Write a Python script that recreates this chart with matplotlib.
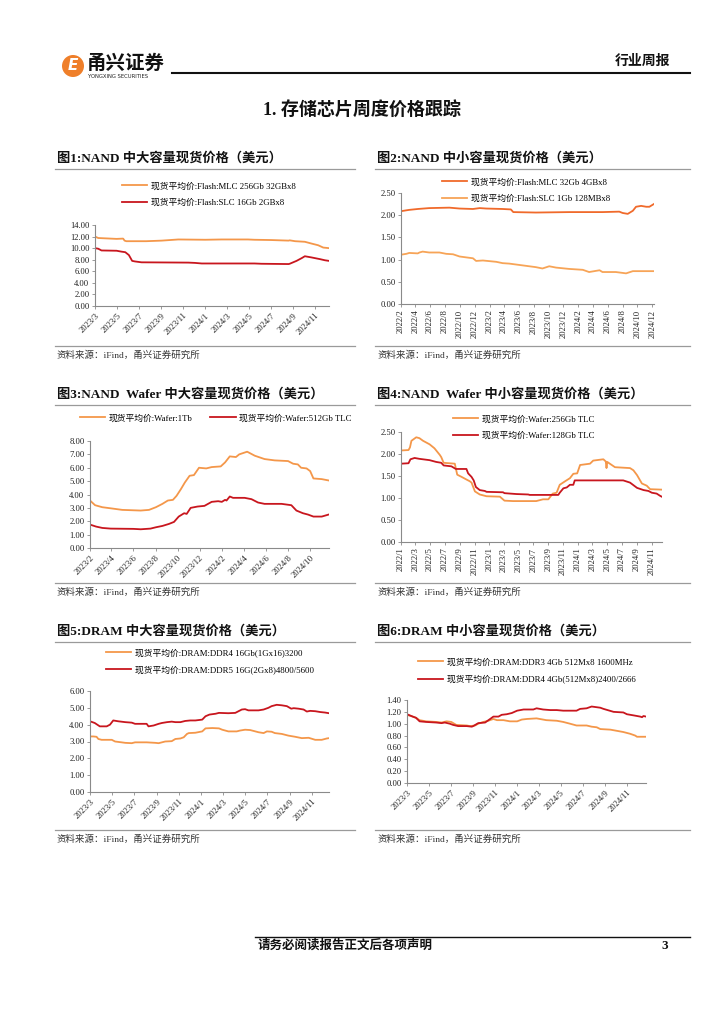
import matplotlib
matplotlib.use("Agg")
import matplotlib.pyplot as plt
import matplotlib.dates as mdates
from matplotlib.lines import Line2D
from matplotlib.patches import Ellipse
from matplotlib.ticker import FuncFormatter, MultipleLocator
import pandas as pd

plt.rcParams["font.family"] = ["Liberation Serif", "Noto Sans CJK SC"]

W, H = 724, 1024

ORANGE = "#F4974A"
RED = "#C8161E"
ORANGE_RED = "#F06A2B"
LIGHT_ORANGE = "#F7A457"

# ---- chart 1: NAND 中大容量 ----
mlc256_dates = ["2023-03-01", "2023-03-10", "2023-04-30", "2023-05-18", "2023-05-22", "2023-05-27",
                "2023-07-21", "2023-09-02", "2023-10-18", "2024-01-01", "2024-02-15", "2024-04-28",
                "2024-05-16", "2024-07-02", "2024-08-19", "2024-08-22", "2024-09-06", "2024-10-03",
                "2024-10-21", "2024-11-09", "2024-11-23", "2024-12-09"]
mlc256 = [12.0, 11.75, 11.6, 11.65, 11.3, 11.2, 11.2, 11.3, 11.5, 11.45, 11.5, 11.5,
          11.45, 11.4, 11.3, 11.35, 11.2, 11.1, 10.8, 10.5, 10.1, 10.0]
slc16_dates = ["2023-03-01", "2023-03-10", "2023-03-19", "2023-04-30", "2023-05-13", "2023-05-24",
               "2023-06-03", "2023-06-12", "2023-06-20", "2023-07-08", "2023-11-15", "2023-12-03",
               "2023-12-22", "2024-05-16", "2024-06-05", "2024-08-19", "2024-08-22", "2024-09-10",
               "2024-09-25", "2024-10-03", "2024-10-21", "2024-11-14", "2024-11-28", "2024-12-09"]
slc16 = [10.0, 9.9, 9.6, 9.55, 9.4, 9.3, 8.8, 7.8, 7.7, 7.55, 7.5, 7.45,
         7.35, 7.35, 7.3, 7.25, 7.3, 7.8, 8.3, 8.6, 8.4, 8.1, 7.9, 7.8]

# ---- chart 2: NAND 中小容量 ----
mlc32_dates = ["2022-02-01", "2022-02-23", "2022-03-07", "2022-04-11", "2022-05-28", "2022-08-19",
               "2022-09-30", "2022-11-24", "2022-12-22", "2023-01-18", "2023-03-26", "2023-04-29",
               "2023-05-09", "2023-08-10", "2023-12-25", "2024-05-10", "2024-07-18", "2024-08-01",
               "2024-08-22", "2024-09-12", "2024-09-25", "2024-10-16", "2024-11-06", "2024-11-19",
               "2024-12-07"]
mlc32 = [2.09, 2.11, 2.12, 2.14, 2.16, 2.17, 2.15, 2.14, 2.16, 2.15, 2.14, 2.13,
         2.07, 2.06, 2.07, 2.07, 2.08, 2.05, 2.03, 2.10, 2.19, 2.21, 2.19, 2.19, 2.25]
slc1_dates = ["2022-02-01", "2022-02-23", "2022-03-07", "2022-04-11", "2022-04-18", "2022-05-01",
              "2022-05-28", "2022-07-09", "2022-08-06", "2022-09-03", "2022-09-30", "2022-11-10",
              "2022-11-24", "2022-12-07", "2023-01-04", "2023-02-28", "2023-03-26", "2023-04-22",
              "2023-06-16", "2023-08-10", "2023-09-06", "2023-10-04", "2023-11-01", "2023-12-25",
              "2024-02-19", "2024-03-16", "2024-04-28", "2024-05-10", "2024-07-04", "2024-08-15",
              "2024-09-12", "2024-12-07"]
slc1 = [1.11, 1.13, 1.15, 1.14, 1.16, 1.18, 1.16, 1.16, 1.13, 1.12, 1.07, 1.04,
        1.03, 0.97, 0.98, 0.95, 0.92, 0.91, 0.87, 0.83, 0.80, 0.85, 0.82, 0.79,
        0.77, 0.72, 0.76, 0.72, 0.72, 0.69, 0.74, 0.74]

# ---- chart 3: NAND Wafer 中大容量 ----
tb1_dates = ["2023-02-01", "2023-02-15", "2023-03-07", "2023-04-04", "2023-05-01", "2023-06-21",
             "2023-07-14", "2023-08-02", "2023-08-20", "2023-09-04", "2023-09-18", "2023-09-28",
             "2023-10-10", "2023-10-21", "2023-11-03", "2023-11-15", "2023-11-29", "2023-12-19",
             "2024-01-03", "2024-01-28", "2024-02-09", "2024-02-22", "2024-03-10", "2024-03-19",
             "2024-04-10", "2024-05-01", "2024-05-28", "2024-06-25", "2024-08-01", "2024-08-15",
             "2024-08-28", "2024-09-06", "2024-09-21", "2024-10-01", "2024-10-10", "2024-11-02",
             "2024-11-21"]
tb1 = [3.55, 3.20, 3.05, 2.95, 2.85, 2.80, 2.85, 3.05, 3.30, 3.55, 3.60, 3.90,
       4.40, 4.90, 5.40, 5.45, 6.00, 5.95, 6.05, 6.10, 6.40, 6.85, 6.80, 7.00,
       7.20, 6.90, 6.65, 6.55, 6.50, 6.30, 6.25, 6.00, 5.95, 5.75, 5.20, 5.15, 5.05]
tlc512_dates = ["2023-02-01", "2023-02-18", "2023-03-07", "2023-03-30", "2023-06-01", "2023-06-21",
                "2023-07-18", "2023-08-02", "2023-08-20", "2023-09-07", "2023-09-21", "2023-10-04",
                "2023-10-19", "2023-10-26", "2023-11-06", "2023-11-25", "2023-12-14", "2024-01-03",
                "2024-01-21", "2024-01-31", "2024-02-09", "2024-02-13", "2024-02-22", "2024-03-02",
                "2024-04-03", "2024-04-22", "2024-05-10", "2024-05-28", "2024-07-14", "2024-08-10",
                "2024-08-24", "2024-09-11", "2024-09-25", "2024-10-10", "2024-11-02", "2024-11-21"]
tlc512 = [1.75, 1.60, 1.50, 1.45, 1.43, 1.40, 1.45, 1.55, 1.65, 1.80, 1.95, 2.35,
          2.60, 2.55, 3.00, 3.10, 3.15, 3.45, 3.50, 3.45, 3.60, 3.55, 3.85, 3.75,
          3.75, 3.65, 3.40, 3.30, 3.30, 3.20, 2.80, 2.60, 2.50, 2.35, 2.35, 2.50]

# ---- chart 4: NAND Wafer 中小容量 ----
tlc256_dates = ["2022-01-01", "2022-02-01", "2022-02-07", "2022-02-13", "2022-03-05", "2022-03-18",
                "2022-04-02", "2022-04-29", "2022-05-19", "2022-06-10", "2022-06-16", "2022-06-26",
                "2022-08-11", "2022-08-21", "2022-09-08", "2022-09-28", "2022-10-12", "2022-10-19",
                "2022-11-02", "2022-11-22", "2022-12-20", "2023-02-13", "2023-03-04", "2023-04-08",
                "2023-07-13", "2023-08-10", "2023-09-01", "2023-09-19", "2023-10-05", "2023-10-18",
                "2023-11-09", "2023-11-29", "2023-12-13", "2023-12-29", "2024-01-10", "2024-02-20",
                "2024-03-04", "2024-04-15", "2024-04-25", "2024-04-28", "2024-05-01", "2024-06-02",
                "2024-08-03", "2024-08-17", "2024-09-01", "2024-09-21", "2024-10-11", "2024-10-25",
                "2024-12-12"]
tlc256 = [2.08, 2.09, 2.15, 2.30, 2.38, 2.36, 2.30, 2.22, 2.13, 1.98, 1.93, 1.80,
          1.78, 1.53, 1.48, 1.42, 1.38, 1.35, 1.15, 1.08, 1.04, 1.03, 0.94, 0.93,
          0.93, 0.97, 0.97, 1.10, 1.12, 1.30, 1.38, 1.45, 1.55, 1.56, 1.75, 1.78,
          1.85, 1.88, 1.83, 1.68, 1.82, 1.70, 1.68, 1.63, 1.52, 1.33, 1.28, 1.20,
          1.19]
tlc128_dates = ["2022-01-01", "2022-02-01", "2022-02-09", "2022-02-26", "2022-03-18", "2022-04-29",
                "2022-05-26", "2022-06-16", "2022-06-26", "2022-07-28", "2022-08-15", "2022-09-28",
                "2022-10-05", "2022-10-19", "2022-10-28", "2022-11-06", "2022-11-22", "2022-12-13",
                "2022-12-20", "2023-02-26", "2023-03-04", "2023-04-22", "2023-06-10", "2023-06-16",
                "2023-10-12", "2023-10-18", "2023-11-02", "2023-11-16", "2023-11-29", "2023-12-13",
                "2023-12-19", "2024-07-06", "2024-08-03", "2024-09-01", "2024-09-28", "2024-10-18",
                "2024-11-01", "2024-11-21", "2024-12-05", "2024-12-12"]
tlc128 = [1.78, 1.79, 1.88, 1.91, 1.89, 1.86, 1.82, 1.80, 1.74, 1.72, 1.66, 1.66,
          1.56, 1.48, 1.40, 1.25, 1.18, 1.16, 1.14, 1.13, 1.11, 1.09, 1.08, 1.07,
          1.07, 1.12, 1.22, 1.24, 1.30, 1.30, 1.40, 1.40, 1.35, 1.23, 1.18, 1.16,
          1.12, 1.10, 1.05, 1.03]

# ---- chart 5: DRAM 中大容量 ----
ddr4_16_dates = ["2023-03-01", "2023-03-10", "2023-03-19", "2023-03-24", "2023-04-02", "2023-04-30",
                 "2023-05-09", "2023-05-27", "2023-06-06", "2023-06-24", "2023-07-03", "2023-08-04",
                 "2023-08-28", "2023-09-06", "2023-09-15", "2023-09-24", "2023-10-12", "2023-10-22",
                 "2023-11-05", "2023-11-14", "2023-11-23", "2023-11-28", "2023-12-16", "2024-01-04",
                 "2024-01-13", "2024-02-01", "2024-02-19", "2024-02-28", "2024-03-16", "2024-04-08",
                 "2024-04-17", "2024-05-01", "2024-05-15", "2024-06-07", "2024-06-21", "2024-06-30",
                 "2024-07-13", "2024-07-22", "2024-08-10", "2024-08-28", "2024-09-16", "2024-10-04",
                 "2024-10-23", "2024-11-10", "2024-11-28", "2024-12-12", "2024-12-18"]
ddr4_16 = [3.30, 3.30, 3.28, 3.15, 3.10, 3.10, 3.00, 2.95, 2.92, 2.90, 2.95, 2.95,
           2.92, 2.90, 2.95, 3.00, 3.02, 3.15, 3.18, 3.25, 3.45, 3.50, 3.52, 3.60,
           3.78, 3.80, 3.78, 3.70, 3.60, 3.60, 3.65, 3.70, 3.68, 3.55, 3.50, 3.60,
           3.58, 3.50, 3.45, 3.35, 3.28, 3.20, 3.22, 3.10, 3.10, 3.18, 3.20]
ddr5_16_dates = ["2023-03-01", "2023-03-14", "2023-03-28", "2023-04-16", "2023-04-25", "2023-05-04",
                 "2023-05-18", "2023-06-06", "2023-06-24", "2023-07-03", "2023-08-04", "2023-08-09",
                 "2023-08-23", "2023-09-06", "2023-09-15", "2023-09-29", "2023-10-12", "2023-10-22",
                 "2023-11-05", "2023-11-18", "2023-12-02", "2023-12-16", "2024-01-04", "2024-01-13",
                 "2024-01-24", "2024-02-10", "2024-02-19", "2024-03-16", "2024-04-04", "2024-04-13",
                 "2024-04-22", "2024-05-01", "2024-05-10", "2024-06-07", "2024-06-21", "2024-07-04",
                 "2024-07-13", "2024-07-27", "2024-08-10", "2024-08-24", "2024-08-28", "2024-09-05",
                 "2024-09-12", "2024-09-25", "2024-10-09", "2024-10-18", "2024-10-27", "2024-11-10",
                 "2024-11-24", "2024-12-07", "2024-12-18"]
ddr5_16 = [4.20, 4.10, 3.90, 3.90, 4.00, 4.25, 4.20, 4.15, 4.12, 4.05, 4.05, 3.90,
           3.95, 4.05, 4.10, 4.15, 4.18, 4.15, 4.15, 4.22, 4.25, 4.25, 4.30, 4.50,
           4.60, 4.65, 4.70, 4.68, 4.70, 4.80, 4.90, 4.92, 4.85, 4.85, 4.90, 5.00,
           5.10, 5.18, 5.15, 5.10, 5.05, 4.95, 4.98, 4.95, 4.90, 4.78, 4.82, 4.80,
           4.75, 4.72, 4.68]

# ---- chart 6: DRAM 中小容量 ----
ddr3_4_dates = ["2023-03-01", "2023-03-17", "2023-03-26", "2023-04-05", "2023-04-23", "2023-05-21",
                "2023-06-05", "2023-06-19", "2023-07-02", "2023-07-16", "2023-08-14", "2023-08-23",
                "2023-09-06", "2023-09-15", "2023-09-29", "2023-10-13", "2023-10-27", "2023-11-06",
                "2023-11-24", "2023-12-12", "2024-01-01", "2024-01-14", "2024-01-28", "2024-02-24",
                "2024-03-04", "2024-03-22", "2024-04-20", "2024-05-08", "2024-05-27", "2024-06-14",
                "2024-07-12", "2024-07-26", "2024-08-09", "2024-08-19", "2024-09-16", "2024-10-04",
                "2024-10-22", "2024-11-10", "2024-11-24", "2024-11-29", "2024-12-24"]
ddr3_4 = [1.15, 1.12, 1.10, 1.06, 1.04, 1.03, 1.02, 1.04, 1.03, 0.98, 0.97, 0.96,
          0.97, 1.00, 1.03, 1.05, 1.08, 1.06, 1.06, 1.04, 1.04, 1.07, 1.08, 1.09,
          1.08, 1.06, 1.05, 1.03, 1.00, 0.97, 0.97, 0.95, 0.94, 0.91, 0.90, 0.88,
          0.86, 0.83, 0.80, 0.78, 0.78]
ddr4_4_dates = ["2023-03-01", "2023-03-17", "2023-03-26", "2023-04-05", "2023-04-23", "2023-05-21",
                "2023-06-05", "2023-06-14", "2023-06-28", "2023-07-07", "2023-07-21", "2023-08-14",
                "2023-08-28", "2023-09-01", "2023-09-15", "2023-10-04", "2023-10-18", "2023-10-27",
                "2023-11-10", "2023-11-19", "2023-12-03", "2023-12-17", "2024-01-01", "2024-01-19",
                "2024-02-15", "2024-02-24", "2024-03-13", "2024-04-02", "2024-04-20", "2024-05-08",
                "2024-06-14", "2024-06-24", "2024-07-12", "2024-07-26", "2024-08-19", "2024-08-28",
                "2024-09-25", "2024-10-22", "2024-11-01", "2024-11-20", "2024-12-08", "2024-12-13",
                "2024-12-17", "2024-12-24"]
ddr4_4 = [1.16, 1.12, 1.10, 1.04, 1.03, 1.02, 1.01, 1.02, 1.00, 0.98, 0.96, 0.96,
          0.95, 0.96, 1.01, 1.02, 1.08, 1.12, 1.12, 1.15, 1.16, 1.18, 1.22, 1.24,
          1.24, 1.26, 1.24, 1.23, 1.23, 1.22, 1.22, 1.25, 1.26, 1.29, 1.27, 1.25,
          1.20, 1.19, 1.16, 1.14, 1.12, 1.11, 1.13, 1.12]


def fx(x):
    return x / W


def fy(y):
    return 1 - y / H


def date_fmt(v, pos):
    d = mdates.num2date(v)
    return f"{d.year}/{d.month}"


def panel(fig, box, series, ylim, ystep, xlim, months, rot, leg_xy, leg_ncol=1):
    x0, y0, x1, y1 = box
    ax = fig.add_axes([fx(x0), fy(y1), (x1 - x0) / W, (y1 - y0) / H])
    for dates, vals, label, color in series:
        ax.plot(pd.to_datetime(dates), vals, color=color, lw=1.3, label=label)
    ax.set_ylim(*ylim)
    ax.yaxis.set_major_locator(MultipleLocator(ystep))
    ax.yaxis.set_major_formatter(FuncFormatter(lambda v, p: f"{v:.2f}"))
    ax.set_xlim(pd.Timestamp(xlim[0]), pd.Timestamp(xlim[1]))
    ax.xaxis.set_major_locator(mdates.MonthLocator(bymonth=months))
    ax.xaxis.set_major_formatter(FuncFormatter(date_fmt))
    for s in ("top", "right"):
        ax.spines[s].set_visible(False)
    for s in ("left", "bottom"):
        ax.spines[s].set_color("#8a8a8a")
        ax.spines[s].set_linewidth(0.8)
    ax.tick_params(axis="both", length=2.5, width=0.6, color="#8a8a8a",
                   labelsize=6.2, labelcolor="#222222", pad=1.5)
    if rot == 90:
        for t in ax.get_xticklabels():
            t.set_rotation(90)
            t.set_ha("center")
    else:
        for t in ax.get_xticklabels():
            t.set_rotation(45)
            t.set_ha("right")
            t.set_rotation_mode("anchor")
    ax.legend(loc="upper left", bbox_to_anchor=(fx(leg_xy[0]), fy(leg_xy[1])),
              bbox_transform=fig.transFigure, frameon=False, fontsize=6.3,
              ncol=leg_ncol, handlelength=2.9, handletextpad=0.4,
              labelspacing=0.95, borderpad=0, borderaxespad=0, columnspacing=2.0)
    return ax


fig = plt.figure(figsize=(W / 100, H / 100), dpi=100)

# header
fig.add_artist(Ellipse((fx(73), fy(66)), 22 / W, 22 / H, transform=fig.transFigure,
                       facecolor="#EF7F2A", edgecolor="none"))
fig.text(fx(73), fy(66), "E", color="white", fontsize=11, fontweight="bold",
         fontstyle="italic", ha="center", va="center", family="DejaVu Sans")
fig.text(fx(87), fy(63), "甬兴证券", fontsize=14, fontweight="bold", ha="left",
         va="center", family="Noto Sans CJK SC", color="#111111")
fig.text(fx(88), fy(77), "YONGXING SECURITIES", fontsize=3.8, ha="left",
         va="center", family="DejaVu Sans", color="#222222")
fig.add_artist(Line2D([fx(172), fx(690)], [fy(73), fy(73)], color="#111111", lw=1.5))
fig.text(fx(670), fy(61), "行业周报", fontsize=10, fontweight="bold", ha="right",
         va="center", color="#111111")
fig.text(fx(362), fy(110), "1. 存储芯片周度价格跟踪", fontsize=13, fontweight="bold",
         ha="center", va="center", color="#111111")

# panel frames: titles, rules and sources
titles = [("图1:NAND 中大容量现货价格（美元）", "图2:NAND 中小容量现货价格（美元）", 158, 355),
          ("图3:NAND  Wafer 中大容量现货价格（美元）", "图4:NAND  Wafer 中小容量现货价格（美元）", 394, 592),
          ("图5:DRAM 中大容量现货价格（美元）", "图6:DRAM 中小容量现货价格（美元）", 631, 839)]
for left_t, right_t, ty, sy in titles:
    for t, xa, xb in ((left_t, 55, 355), (right_t, 375, 690)):
        fig.text(fx(xa + 2), fy(ty), t, fontsize=9.5, fontweight="bold", ha="left",
                 va="center", color="#111111")
        fig.add_artist(Line2D([fx(xa), fx(xb)], [fy(ty + 11), fy(ty + 11)],
                              color="#9a9a9a", lw=0.9))
        fig.add_artist(Line2D([fx(xa), fx(xb)], [fy(sy - 9), fy(sy - 9)],
                              color="#9a9a9a", lw=0.9))
        fig.text(fx(xa + 2), fy(sy), "资料来源：iFind，甬兴证券研究所", fontsize=6.8,
                 ha="left", va="center", color="#333333")

panel(fig, (95, 225, 329, 306),
      [(mlc256_dates, mlc256, "现货平均价:Flash:MLC 256Gb 32GBx8", ORANGE),
       (slc16_dates, slc16, "现货平均价:Flash:SLC 16Gb 2GBx8", RED)],
      (0, 14), 2, ("2023-03-01", "2024-12-09"), [1, 3, 5, 7, 9, 11], 45, (122, 182))

panel(fig, (401, 193, 654, 304),
      [(mlc32_dates, mlc32, "现货平均价:Flash:MLC 32Gb 4GBx8", ORANGE_RED),
       (slc1_dates, slc1, "现货平均价:Flash:SLC 1Gb 128MBx8", LIGHT_ORANGE)],
      (0, 2.5), 0.5, ("2022-02-01", "2024-12-08"), [2, 4, 6, 8, 10, 12], 90, (442, 178))

panel(fig, (90, 441, 329, 548),
      [(tb1_dates, tb1, "现货平均价:Wafer:1Tb", ORANGE),
       (tlc512_dates, tlc512, "现货平均价:Wafer:512Gb TLC", RED)],
      (0, 8), 1, ("2023-02-01", "2024-11-22"), [2, 4, 6, 8, 10, 12], 45, (80, 414), leg_ncol=2)

panel(fig, (401, 432, 662, 542),
      [(tlc256_dates, tlc256, "现货平均价:Wafer:256Gb TLC", ORANGE),
       (tlc128_dates, tlc128, "现货平均价:Wafer:128Gb TLC", RED)],
      (0, 2.5), 0.5, ("2022-01-01", "2024-12-13"), [1, 3, 5, 7, 9, 11], 90, (453, 415))

panel(fig, (90, 691, 329, 792),
      [(ddr4_16_dates, ddr4_16, "现货平均价:DRAM:DDR4 16Gb(1Gx16)3200", ORANGE),
       (ddr5_16_dates, ddr5_16, "现货平均价:DRAM:DDR5 16G(2Gx8)4800/5600", RED)],
      (0, 6), 1, ("2023-03-01", "2024-12-18"), [1, 3, 5, 7, 9, 11], 45, (106, 648))

panel(fig, (407, 700, 646, 783),
      [(ddr3_4_dates, ddr3_4, "现货平均价:DRAM:DDR3 4Gb 512Mx8 1600MHz", ORANGE),
       (ddr4_4_dates, ddr4_4, "现货平均价:DRAM:DDR4 4Gb(512Mx8)2400/2666", RED)],
      (0, 1.4), 0.2, ("2023-03-01", "2024-12-24"), [1, 3, 5, 7, 9, 11], 45, (418, 658))

# footer
fig.add_artist(Line2D([fx(255), fx(690)], [fy(937), fy(937)], color="#111111", lw=1.0))
fig.text(fx(258), fy(946), "请务必阅读报告正文后各项声明", fontsize=9, fontweight="bold",
         ha="left", va="center", color="#111111")
fig.text(fx(668), fy(946), "3", fontsize=9.5, fontweight="bold", ha="right",
         va="center", color="#111111")

fig.savefig("out.png", dpi=100)
